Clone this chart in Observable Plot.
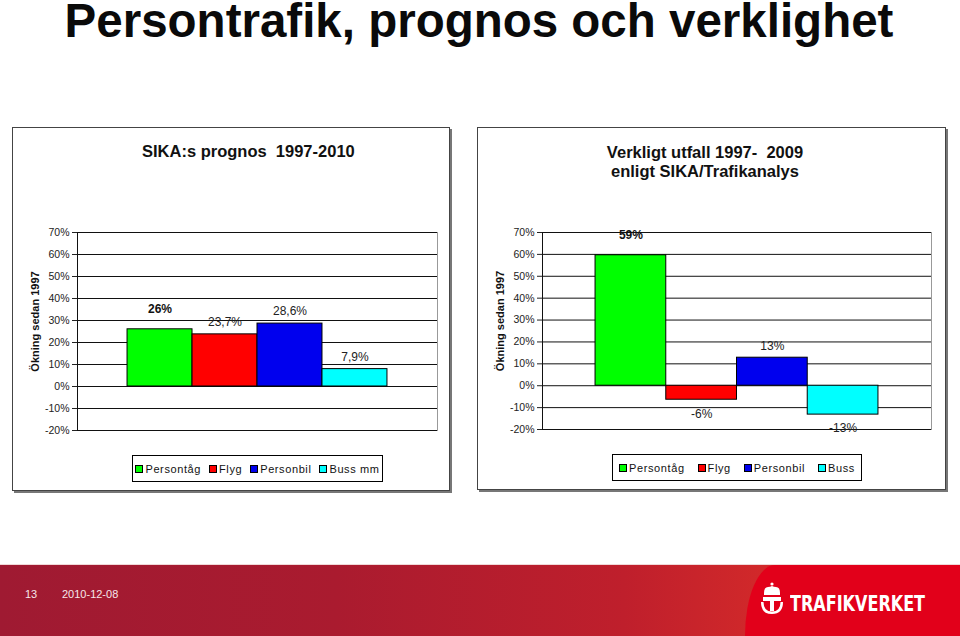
<!DOCTYPE html>
<html><head><meta charset="utf-8">
<script src="https://cdn.jsdelivr.net/npm/d3@7"></script>
<script src="https://cdn.jsdelivr.net/npm/@observablehq/plot@0.6"></script>
<style>
body{margin:0;width:960px;height:636px;position:relative;overflow:hidden;background:#fff;font-family:"Liberation Sans",Arial,sans-serif;color:#000;}
.abs{position:absolute}
#mainTitle{left:0;top:0;width:958px;text-align:center;font-size:47.5px;font-weight:bold;line-height:41px;color:#0a0a0a;}
.frame{border:1px solid #444;box-shadow:2px 2px 0 #777;background:#fff;}
.ctitle{font-size:16.5px;font-weight:bold;line-height:19.5px;text-align:center;white-space:pre;color:#111;}
.legend{border:1px solid #000;display:flex;align-items:center;justify-content:center;font-size:11px;letter-spacing:0.6px;color:#111;box-sizing:border-box;}
.legend .item{display:flex;align-items:center;}
.legend .sw{width:6px;height:6px;border:1px solid #000;margin-right:2px;}
#footer{left:0;top:564px;width:960px;height:72px;background:linear-gradient(90deg,#9f1a32 0%,#aa1b2f 35%,#bf1f2c 65%,#d2292a 80%);border-top:1px solid #f0d8d8;}
#logoBg{left:745px;top:565px;width:240px;height:71px;background:#e2001a;border-radius:30px 0 0 0 / 71px 0 0 0;}
.foot{color:#f6e6ea;font-size:11px;}
#brand{left:790px;top:591px;color:#fff;font-family:"Liberation Sans Narrow","DejaVu Sans Condensed","Liberation Sans",Arial,sans-serif;font-weight:bold;font-size:22px;letter-spacing:0px;transform:scaleX(0.81);transform-origin:left center;}
</style></head><body>
<div id="mainTitle" class="abs">Persontrafik, prognos och verklighet</div>

<div class="abs frame" style="left:12px;top:127px;width:436px;height:362px;"></div>
<div class="abs frame" style="left:477px;top:127px;width:467px;height:361px;"></div>

<div class="abs ctitle" id="t1" style="left:142px;width:200px;top:142px;"></div>
<div class="abs ctitle" id="t2" style="left:555px;width:300px;top:142.5px;"></div>

<div class="abs" id="chartLeft" style="left:12px;top:200px;"></div>
<div class="abs" id="chartRight" style="left:477px;top:200px;"></div>

<div class="abs legend" id="legLeft" style="left:132px;top:455px;width:251px;height:27px;"></div>
<div class="abs legend" id="legRight" style="left:612px;top:454px;width:250px;height:27px;"></div>

<div class="abs" id="footer"></div>
<div class="abs" id="logoBg"></div>
<div class="abs foot" style="left:25px;top:588px;">13</div>
<div class="abs foot" style="left:62px;top:588px;">2010-12-08</div>
<svg class="abs" style="left:759px;top:582px;" width="26" height="34" viewBox="0 0 26 34">
  <g fill="#fff" stroke="none">
    <circle cx="13" cy="2" r="1.6"/>
    <path d="M5 11 Q5 5 9 5 Q11 5 13 4 Q15 5 17 5 Q21 5 21 11 Z"/>
    <rect x="5" y="11" width="16" height="2"/>
    <rect x="4" y="15" width="18" height="4"/>
    <rect x="11" y="19" width="4" height="10"/>
    <path d="M2 20 Q2 32 13 32 Q24 32 24 20 L21.5 20 Q21.5 29.5 13 29.5 Q4.5 29.5 4.5 20 Z"/>
  </g>
</svg>
<div class="abs" id="brand">TRAFIKVERKET</div>

<script>
// ---- data ----
const seriesLeft = ["Persontåg", "Flyg", "Personbil", "Buss mm"];
const seriesRight = ["Persontåg", "Flyg", "Personbil", "Buss"];
const seriesColors = ["#00ff00", "#ff0000", "#0000ee", "#00ffff"];
const prognosValues = [26, 23.7, 28.6, 7.9];
const prognosLabels = ["26%", "23,7%", "28,6%", "7,9%"];
const utfallValues = [59.6, -6.4, 12.8, -13.2];
const utfallLabels = ["59%", "-6%", "13%", "-13%"];
const yTicks = [-20, -10, 0, 10, 20, 30, 40, 50, 60, 70];
const yDomain = [-20, 70];
const yTitle = "Ökning sedan 1997";
const titleLeft = "SIKA:s prognos  1997-2010";
const titleRight = "Verkligt utfall 1997-  2009\nenligt SIKA/Trafikanalys";

document.getElementById("t1").textContent = titleLeft;
document.getElementById("t2").textContent = titleRight;

function chart(names, values, labels, opts) {
  const data = names.map((n, i) => ({name: n, i, value: values[i], label: labels[i]}));
  const first = data.filter((d, k) => k === 0);
  const pos = data.filter((d, k) => k > 0 && d.value >= 0);
  const neg = data.filter((d, k) => k > 0 && d.value < 0);
  return Plot.plot({
    width: opts.width, height: opts.height,
    marginLeft: opts.ml, marginRight: opts.mr, marginTop: opts.mt, marginBottom: opts.mb,
    style: {fontFamily: "'Liberation Sans', Arial, sans-serif", fontSize: "10.5px", color: "#222", background: "transparent", overflow: "visible"},
    x: {domain: [-opts.gap, names.length + opts.gap], axis: null},
    y: {domain: yDomain, ticks: yTicks, tickFormat: d => d + "%", tickSize: 5, tickPadding: 3, label: null},
    color: {domain: names, range: seriesColors},
    marks: [
      Plot.frame({stroke: "#999"}),
      Plot.ruleY(yTicks, {stroke: "#111", strokeWidth: 1}),
      Plot.ruleX([-opts.gap], {stroke: "#111", strokeWidth: 1}),
      Plot.rect(data, {x1: "i", x2: d => d.i + 1, y1: d => 0, y2: "value", fill: "name", stroke: "#000", strokeWidth: 1}),
      Plot.text(first, {x: d => d.i + 0.5, y: "value", text: "label", dy: -20, fontWeight: "bold", fontSize: 12, fill: "#111"}),
      Plot.text(pos, {x: d => d.i + 0.5, y: "value", text: "label", dy: -12, fontSize: 12, fill: "#222"}),
      Plot.text(neg, {x: d => d.i + 0.5, y: "value", text: "label", dy: 14, fontSize: 12, fill: "#222"}),
      Plot.text([yTitle], {text: d => d, frameAnchor: "left", textAnchor: "middle", rotate: -90, dx: -42, dy: -10, fontWeight: "bold", fontSize: 11, fill: "#111"})
    ]
  });
}

document.getElementById("chartLeft").appendChild(
  chart(seriesLeft, prognosValues, prognosLabels, {width: 438, height: 240, ml: 65, mr: 13, mt: 32, mb: 10, gap: 0.77}));
document.getElementById("chartRight").appendChild(
  chart(seriesRight, utfallValues, utfallLabels, {width: 470, height: 240, ml: 65, mr: 16, mt: 32, mb: 11, gap: 0.75}));

function legend(el, names, gap) {
  const box = document.getElementById(el);
  box.style.gap = gap + "px";
  names.forEach((n, i) => {
    const it = document.createElement("div");
    it.className = "item";
    const sw = document.createElement("div");
    sw.className = "sw";
    sw.style.background = seriesColors[i];
    const tx = document.createElement("span");
    tx.textContent = n;
    it.appendChild(sw); it.appendChild(tx);
    box.appendChild(it);
  });
}
legend("legLeft", seriesLeft, 8);
legend("legRight", seriesRight, 13);
</script>
</body></html>
